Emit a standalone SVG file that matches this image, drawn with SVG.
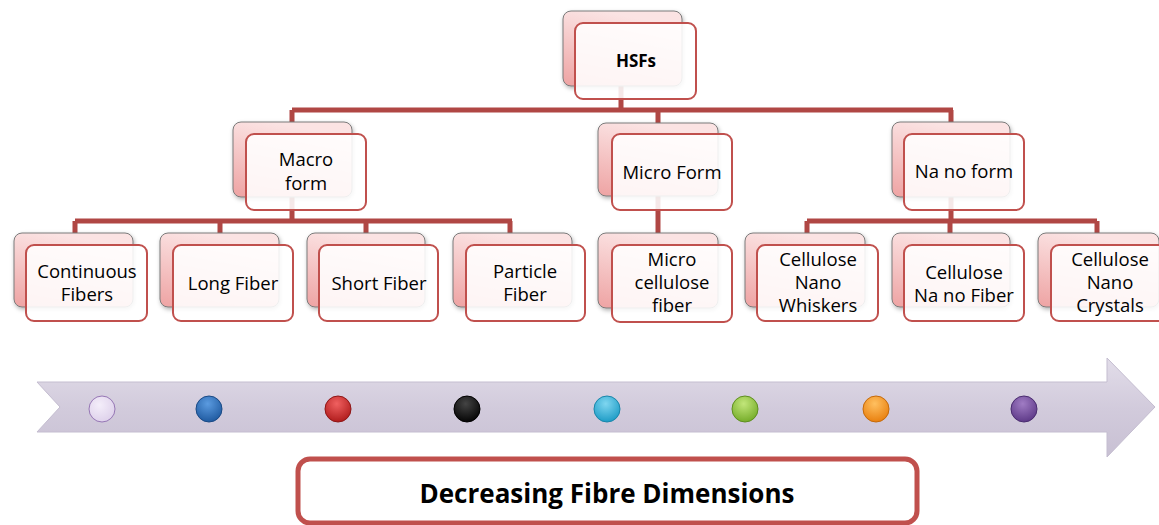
<svg xmlns="http://www.w3.org/2000/svg" width="1159" height="525" viewBox="0 0 1159 525">
<defs>
<linearGradient id="backG" x1="0.3" y1="0" x2="0" y2="1">
<stop offset="0" stop-color="#fbe3e3"/>
<stop offset="1" stop-color="#eea3a3"/>
</linearGradient>
<linearGradient id="arrowG" x1="0" y1="0" x2="0" y2="1">
<stop offset="0" stop-color="#e2dde9"/>
<stop offset="0.5" stop-color="#d2cbdc"/>
<stop offset="1" stop-color="#c8c0d3"/>
</linearGradient>
<filter id="sh" x="-10%" y="-10%" width="130%" height="140%">
<feDropShadow dx="1" dy="2" stdDeviation="2" flood-color="#000" flood-opacity="0.3"/>
</filter>
<radialGradient id="gLav" cx="0.4" cy="0.35" r="0.7"><stop offset="0" stop-color="#f4eefa"/><stop offset="1" stop-color="#ddd0ea"/></radialGradient>
<radialGradient id="gBlue" cx="0.45" cy="0.3" r="0.7"><stop offset="0" stop-color="#5b9be0"/><stop offset="1" stop-color="#1f5aa0"/></radialGradient>
<radialGradient id="gRed" cx="0.45" cy="0.3" r="0.7"><stop offset="0" stop-color="#f06060"/><stop offset="1" stop-color="#b01c1c"/></radialGradient>
<radialGradient id="gBlack" cx="0.45" cy="0.3" r="0.7"><stop offset="0" stop-color="#444"/><stop offset="1" stop-color="#050505"/></radialGradient>
<radialGradient id="gCyan" cx="0.45" cy="0.3" r="0.7"><stop offset="0" stop-color="#7fd6f0"/><stop offset="1" stop-color="#1e9cc6"/></radialGradient>
<radialGradient id="gGreen" cx="0.45" cy="0.3" r="0.7"><stop offset="0" stop-color="#c2e67a"/><stop offset="1" stop-color="#76ad2a"/></radialGradient>
<radialGradient id="gOrange" cx="0.45" cy="0.3" r="0.7"><stop offset="0" stop-color="#ffc060"/><stop offset="1" stop-color="#e9800f"/></radialGradient>
<radialGradient id="gPurple" cx="0.45" cy="0.3" r="0.7"><stop offset="0" stop-color="#a07cc4"/><stop offset="1" stop-color="#5e3a88"/></radialGradient>
</defs>
<style>
.back{fill:url(#backG);stroke:#7a7a7a;stroke-width:1;filter:url(#sh)}
.front{fill:#ffffff;fill-opacity:0.88;stroke:#c0504d;stroke-width:2}
.t{font-family:"Open Sans","Noto Sans",sans-serif;font-size:18.5px;fill:#000;text-anchor:middle}
.tb{font-family:"Open Sans","Noto Sans",sans-serif;font-weight:bold;fill:#000;text-anchor:middle}
.con{fill:none;stroke:#b04744;stroke-width:5;stroke-linejoin:miter}
.dot{stroke-width:1}
</style>
<rect width="1159" height="525" fill="#ffffff"/>

<g id="connectors">
<path class="con" d="M621 86 V110 M292 110 H953 M292 110 V122 M658 110 V123 M951 110 V122"/>
<path class="con" d="M292 197 V221 M75 221 H512 M75 221 V233 M220 221 V233 M366 221 V233 M510 221 V233"/>
<path class="con" d="M658 196 V233"/>
<path class="con" d="M951 197 V221 M807 221 H1097 M807 221 V233 M950 221 V233 M1097 221 V233"/>
</g>

<g id="hsfs">
<rect class="back" x="563" y="11" width="119" height="75" rx="8"/>
<rect class="front" x="575" y="23" width="121" height="76" rx="8"/>
<text class="tb" x="636" y="67" font-size="17">HSFs</text>
</g>

<g id="macro">
<rect class="back" x="233" y="122" width="119" height="75" rx="8"/>
<rect class="front" x="246" y="134" width="120" height="76" rx="8"/>
<text class="t" x="306" y="166">Macro</text>
<text class="t" x="306" y="190">form</text>
</g>

<g id="micro">
<rect class="back" x="598" y="123" width="120" height="73" rx="8"/>
<rect class="front" x="612" y="134" width="120" height="76" rx="8"/>
<text class="t" x="672" y="179">Micro Form</text>
</g>

<g id="nano">
<rect class="back" x="892" y="122" width="118" height="75" rx="8"/>
<rect class="front" x="904" y="134" width="120" height="76" rx="8"/>
<text class="t" x="964" y="178">Na no form</text>
</g>

<g id="continuous">
<rect class="back" x="14" y="233" width="119" height="74" rx="8"/>
<rect class="front" x="26" y="245" width="121" height="76" rx="8"/>
<text class="t" x="87" y="278">Continuous</text>
<text class="t" x="87" y="301">Fibers</text>
</g>

<g id="long">
<rect class="back" x="160" y="233" width="119" height="74" rx="8"/>
<rect class="front" x="173" y="245" width="120" height="76" rx="8"/>
<text class="t" x="233" y="290">Long Fiber</text>
</g>

<g id="short">
<rect class="back" x="307" y="233" width="118" height="74" rx="8"/>
<rect class="front" x="319" y="245" width="119" height="76" rx="8"/>
<text class="t" x="379" y="290">Short Fiber</text>
</g>

<g id="particle">
<rect class="back" x="453" y="233" width="119" height="74" rx="8"/>
<rect class="front" x="466" y="245" width="119" height="76" rx="8"/>
<text class="t" x="525" y="278">Particle</text>
<text class="t" x="525" y="301">Fiber</text>
</g>

<g id="microcellulose">
<rect class="back" x="598" y="233" width="120" height="75" rx="8"/>
<rect class="front" x="612" y="245" width="120" height="77" rx="8"/>
<text class="t" x="672" y="266">Micro</text>
<text class="t" x="672" y="289">cellulose</text>
<text class="t" x="672" y="312">fiber</text>
</g>

<g id="whiskers">
<rect class="back" x="745" y="233" width="120" height="74" rx="8"/>
<rect class="front" x="757" y="245" width="121" height="76" rx="8"/>
<text class="t" x="818" y="266">Cellulose</text>
<text class="t" x="818" y="289">Nano</text>
<text class="t" x="818" y="312">Whiskers</text>
</g>

<g id="nanofiber">
<rect class="back" x="892" y="233" width="118" height="74" rx="8"/>
<rect class="front" x="904" y="245" width="120" height="76" rx="8"/>
<text class="t" x="964" y="279">Cellulose</text>
<text class="t" x="964" y="302">Na no Fiber</text>
</g>

<g id="crystals">
<rect class="back" x="1038" y="233" width="121" height="74" rx="8"/>
<rect class="front" x="1051" y="245" width="125" height="76" rx="8"/>
<text class="t" x="1110" y="266">Cellulose</text>
<text class="t" x="1110" y="289">Nano</text>
<text class="t" x="1110" y="312">Crystals</text>
</g>

<g id="arrow">
<path d="M37 382 H1107 V358 L1155 407 L1107 457 V432 H37 L60 407 Z" fill="url(#arrowG)" stroke="#c4bdd0" stroke-width="1"/>
<circle class="dot" cx="102" cy="409" r="13" fill="url(#gLav)" stroke="#9677b5"/>
<circle class="dot" cx="209" cy="409" r="13" fill="url(#gBlue)" stroke="#1a4a85"/>
<circle class="dot" cx="338" cy="409" r="13" fill="url(#gRed)" stroke="#8e1616"/>
<circle class="dot" cx="467" cy="409" r="13" fill="url(#gBlack)" stroke="#000"/>
<circle class="dot" cx="607" cy="409" r="13" fill="url(#gCyan)" stroke="#1a86aa"/>
<circle class="dot" cx="745" cy="409" r="13" fill="url(#gGreen)" stroke="#5f8f20"/>
<circle class="dot" cx="876" cy="409" r="13" fill="url(#gOrange)" stroke="#c56a0a"/>
<circle class="dot" cx="1024" cy="409" r="13" fill="url(#gPurple)" stroke="#4a2c70"/>
</g>

<g id="label">
<rect x="298" y="459" width="619" height="64" rx="12" fill="#ffffff" stroke="#c0504d" stroke-width="5"/>
<text class="tb" x="607" y="503" font-size="26">Decreasing Fibre Dimensions</text>
</g>
</svg>
